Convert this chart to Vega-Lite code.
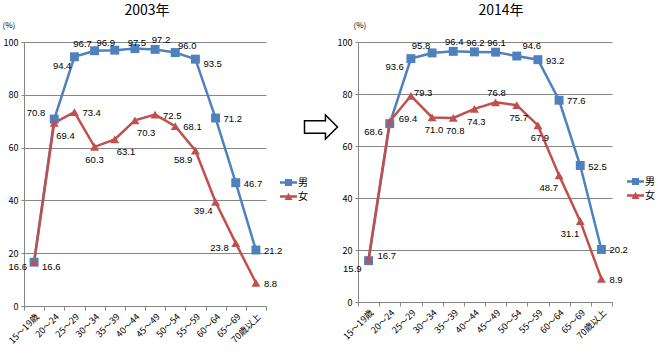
{
  "$schema": "https://vega.github.io/schema/vega-lite/v6.json",
  "padding": {"left": 2, "top": 4, "right": 0, "bottom": 0},
  "config": {"view": {"stroke": null}, "font": "Noto Sans CJK JP"},
  "data": {"values": [
    {"year": "2003", "sex": "男", "age": "15～19歳", "value": 16.6},
    {"year": "2003", "sex": "男", "age": "20～24", "value": 70.8},
    {"year": "2003", "sex": "男", "age": "25～29", "value": 94.4},
    {"year": "2003", "sex": "男", "age": "30～34", "value": 96.7},
    {"year": "2003", "sex": "男", "age": "35～39", "value": 96.9},
    {"year": "2003", "sex": "男", "age": "40～44", "value": 97.5},
    {"year": "2003", "sex": "男", "age": "45～49", "value": 97.2},
    {"year": "2003", "sex": "男", "age": "50～54", "value": 96.0},
    {"year": "2003", "sex": "男", "age": "55～59", "value": 93.5},
    {"year": "2003", "sex": "男", "age": "60～64", "value": 71.2},
    {"year": "2003", "sex": "男", "age": "65～69", "value": 46.7},
    {"year": "2003", "sex": "男", "age": "70歳以上", "value": 21.2},
    {"year": "2003", "sex": "女", "age": "15～19歳", "value": 16.6},
    {"year": "2003", "sex": "女", "age": "20～24", "value": 69.4},
    {"year": "2003", "sex": "女", "age": "25～29", "value": 73.4},
    {"year": "2003", "sex": "女", "age": "30～34", "value": 60.3},
    {"year": "2003", "sex": "女", "age": "35～39", "value": 63.1},
    {"year": "2003", "sex": "女", "age": "40～44", "value": 70.3},
    {"year": "2003", "sex": "女", "age": "45～49", "value": 72.5},
    {"year": "2003", "sex": "女", "age": "50～54", "value": 68.1},
    {"year": "2003", "sex": "女", "age": "55～59", "value": 58.9},
    {"year": "2003", "sex": "女", "age": "60～64", "value": 39.4},
    {"year": "2003", "sex": "女", "age": "65～69", "value": 23.8},
    {"year": "2003", "sex": "女", "age": "70歳以上", "value": 8.8},
    {"year": "2014", "sex": "男", "age": "15～19歳", "value": 15.9},
    {"year": "2014", "sex": "男", "age": "20～24", "value": 68.6},
    {"year": "2014", "sex": "男", "age": "25～29", "value": 93.6},
    {"year": "2014", "sex": "男", "age": "30～34", "value": 95.8},
    {"year": "2014", "sex": "男", "age": "35～39", "value": 96.4},
    {"year": "2014", "sex": "男", "age": "40～44", "value": 96.2},
    {"year": "2014", "sex": "男", "age": "45～49", "value": 96.1},
    {"year": "2014", "sex": "男", "age": "50～54", "value": 94.6},
    {"year": "2014", "sex": "男", "age": "55～59", "value": 93.2},
    {"year": "2014", "sex": "男", "age": "60～64", "value": 77.6},
    {"year": "2014", "sex": "男", "age": "65～69", "value": 52.5},
    {"year": "2014", "sex": "男", "age": "70歳以上", "value": 20.2},
    {"year": "2014", "sex": "女", "age": "15～19歳", "value": 16.7},
    {"year": "2014", "sex": "女", "age": "20～24", "value": 69.4},
    {"year": "2014", "sex": "女", "age": "25～29", "value": 79.3},
    {"year": "2014", "sex": "女", "age": "30～34", "value": 71.0},
    {"year": "2014", "sex": "女", "age": "35～39", "value": 70.8},
    {"year": "2014", "sex": "女", "age": "40～44", "value": 74.3},
    {"year": "2014", "sex": "女", "age": "45～49", "value": 76.8},
    {"year": "2014", "sex": "女", "age": "50～54", "value": 75.7},
    {"year": "2014", "sex": "女", "age": "55～59", "value": 67.9},
    {"year": "2014", "sex": "女", "age": "60～64", "value": 48.7},
    {"year": "2014", "sex": "女", "age": "65～69", "value": 31.1},
    {"year": "2014", "sex": "女", "age": "70歳以上", "value": 8.9}
  ]},
  "spacing": -4,
  "hconcat": [
    {
      "spacing": -7,
      "hconcat": [
        {
          "width": 242, "height": 264,
          "title": {"text": "2003年", "fontSize": 14, "fontWeight": "normal", "font": "Noto Sans CJK JP", "color": "black", "offset": 3, "dx": 2},
          "transform": [{"filter": "datum.year === '2003'"}],
          "resolve": {"scale": {"color": "independent", "shape": "independent"}},
          "encoding": {
            "x": {"field": "age", "type": "nominal", "sort": null, "scale": {"type": "band", "paddingInner": 0, "paddingOuter": 0},
              "axis": {"title": null, "labelAngle": -45, "labelFontSize": 9, "labelColor": "black", "tickBand": "extent", "tickSize": 4, "tickColor": "#868686", "domainColor": "#868686", "labelPadding": 2, "grid": false}},
            "y": {"field": "value", "type": "quantitative", "scale": {"domain": [0, 100]},
              "axis": {"values": [0, 20, 40, 60, 80, 100], "title": "(%)", "titleAngle": 0, "titleAlign": "left", "titleBaseline": "middle", "titleX": -22, "titleY": -17, "titleFontSize": 8, "titleFontWeight": "normal", "labelFontSize": 9, "labelColor": "black", "tickSize": 3, "tickColor": "#868686", "domainColor": "#868686", "gridColor": "#868686", "labelPadding": 3}},
            "color": {"field": "sex", "type": "nominal", "scale": {"domain": ["男", "女"], "range": ["#4F81BD", "#C0504D"]}, "legend": null}
          },
          "layer": [
            {"mark": {"type": "line", "strokeWidth": 2.5}},
            {"mark": {"type": "point", "filled": true, "opacity": 1, "size": 80},
              "encoding": {"shape": {"field": "sex", "type": "nominal", "scale": {"domain": ["男", "女"], "range": ["square", "triangle-up"]}, "legend": null}}},
            {"transform": [{"filter": "false"}],
              "mark": {"type": "point", "filled": true, "opacity": 1},
              "encoding": {
                "color": {"field": "sex", "type": "nominal", "scale": {"domain": ["男", "女"], "range": ["#4F81BD", "#C0504D"]},
                  "legend": {"orient": "none", "legendX": 256, "legendY": 132, "title": null, "symbolSize": 289, "labelFontSize": 10, "labelColor": "black", "rowPadding": 0, "labelOffset": 1, "padding": 0, "symbolStrokeWidth": 0, "symbolOpacity": 1}},
                "shape": {"field": "sex", "type": "nominal", "scale": {"domain": ["男", "女"], "range": ["M-1,-0.15H1V0.15H-1Z M-0.42,-0.42H0.42V0.42H-0.42Z", "M-1,-0.15H1V0.15H-1Z M0,-0.45L0.47,0.4H-0.47Z"]},
                  "legend": {"orient": "none", "legendX": 256, "legendY": 132, "title": null, "symbolSize": 289, "labelFontSize": 10, "labelColor": "black", "rowPadding": 0, "labelOffset": 1, "padding": 0, "symbolStrokeWidth": 0, "symbolOpacity": 1}}}},
            {"transform": [{"filter": "indexof(['男|60～64','男|65～69','男|70歳以上','女|25～29','女|45～49','女|50～54','女|70歳以上'], datum.sex + '|' + datum.age) >= 0"}],
              "mark": {"type": "text", "align": "left", "baseline": "middle", "dx": 8, "dy": 1, "fontSize": 9.5, "font": "Liberation Sans"},
              "encoding": {"text": {"field": "value", "type": "quantitative", "format": ".1f"}, "color": {"value": "black"}}},
            {"transform": [{"filter": "indexof(['男|55～59','女|15～19歳'], datum.sex + '|' + datum.age) >= 0"}],
              "mark": {"type": "text", "align": "left", "baseline": "middle", "dx": 8, "dy": 5, "fontSize": 9.5, "font": "Liberation Sans"},
              "encoding": {"text": {"field": "value", "type": "quantitative", "format": ".1f"}, "color": {"value": "black"}}},
            {"transform": [{"filter": "indexof(['男|15～19歳','女|65～69'], datum.sex + '|' + datum.age) >= 0"}],
              "mark": {"type": "text", "align": "right", "baseline": "middle", "dx": -7, "dy": 5, "fontSize": 9.5, "font": "Liberation Sans"},
              "encoding": {"text": {"field": "value", "type": "quantitative", "format": ".1f"}, "color": {"value": "black"}}},
            {"transform": [{"filter": "indexof(['男|20～24'], datum.sex + '|' + datum.age) >= 0"}],
              "mark": {"type": "text", "align": "right", "baseline": "middle", "dx": -9, "dy": -6, "fontSize": 9.5, "font": "Liberation Sans"},
              "encoding": {"text": {"field": "value", "type": "quantitative", "format": ".1f"}, "color": {"value": "black"}}},
            {"transform": [{"filter": "indexof(['男|25～29','女|55～59','女|60～64'], datum.sex + '|' + datum.age) >= 0"}],
              "mark": {"type": "text", "align": "right", "baseline": "middle", "dx": -3, "dy": 9, "fontSize": 9.5, "font": "Liberation Sans"},
              "encoding": {"text": {"field": "value", "type": "quantitative", "format": ".1f"}, "color": {"value": "black"}}},
            {"transform": [{"filter": "indexof(['女|20～24','女|35～39','女|40～44'], datum.sex + '|' + datum.age) >= 0"}],
              "mark": {"type": "text", "align": "left", "baseline": "middle", "dx": 2, "dy": 13, "fontSize": 9.5, "font": "Liberation Sans"},
              "encoding": {"text": {"field": "value", "type": "quantitative", "format": ".1f"}, "color": {"value": "black"}}},
            {"transform": [{"filter": "indexof(['女|30～34'], datum.sex + '|' + datum.age) >= 0"}],
              "mark": {"type": "text", "align": "center", "baseline": "middle", "dx": 0, "dy": 13, "fontSize": 9.5, "font": "Liberation Sans"},
              "encoding": {"text": {"field": "value", "type": "quantitative", "format": ".1f"}, "color": {"value": "black"}}},
            {"transform": [{"filter": "indexof(['男|30～34'], datum.sex + '|' + datum.age) >= 0"}],
              "mark": {"type": "text", "align": "center", "baseline": "middle", "dx": -12, "dy": -7, "fontSize": 9.5, "font": "Liberation Sans"},
              "encoding": {"text": {"field": "value", "type": "quantitative", "format": ".1f"}, "color": {"value": "black"}}},
            {"transform": [{"filter": "indexof(['男|35～39'], datum.sex + '|' + datum.age) >= 0"}],
              "mark": {"type": "text", "align": "center", "baseline": "middle", "dx": -9, "dy": -7, "fontSize": 9.5, "font": "Liberation Sans"},
              "encoding": {"text": {"field": "value", "type": "quantitative", "format": ".1f"}, "color": {"value": "black"}}},
            {"transform": [{"filter": "indexof(['男|40～44'], datum.sex + '|' + datum.age) >= 0"}],
              "mark": {"type": "text", "align": "center", "baseline": "middle", "dx": 2, "dy": -6, "fontSize": 9.5, "font": "Liberation Sans"},
              "encoding": {"text": {"field": "value", "type": "quantitative", "format": ".1f"}, "color": {"value": "black"}}},
            {"transform": [{"filter": "indexof(['男|45～49'], datum.sex + '|' + datum.age) >= 0"}],
              "mark": {"type": "text", "align": "center", "baseline": "middle", "dx": 6, "dy": -9, "fontSize": 9.5, "font": "Liberation Sans"},
              "encoding": {"text": {"field": "value", "type": "quantitative", "format": ".1f"}, "color": {"value": "black"}}},
            {"transform": [{"filter": "indexof(['男|50～54'], datum.sex + '|' + datum.age) >= 0"}],
              "mark": {"type": "text", "align": "center", "baseline": "middle", "dx": 12, "dy": -7, "fontSize": 9.5, "font": "Liberation Sans"},
              "encoding": {"text": {"field": "value", "type": "quantitative", "format": ".1f"}, "color": {"value": "black"}}}
          ]
        },
        {
          "width": 20, "height": 170,
          "data": {"values": [{"item": "arrow"}]},
          "mark": {"type": "point", "shape": "M-1,-0.38L0.27,-0.38L0.27,-0.73L1,0L0.27,0.73L0.27,0.38L-1,0.38Z", "size": 1089, "filled": true, "fill": "white", "stroke": "black", "strokeWidth": 1.5, "opacity": 1},
          "encoding": {}
        }
      ]
    },
    {
      "width": 254, "height": 260,
      "title": {"text": "2014年", "fontSize": 14, "fontWeight": "normal", "font": "Noto Sans CJK JP", "color": "black", "offset": 3, "dx": 16},
      "transform": [{"filter": "datum.year === '2014'"}],
      "resolve": {"scale": {"color": "independent", "shape": "independent"}},
      "encoding": {
        "x": {"field": "age", "type": "nominal", "sort": null, "scale": {"type": "band", "paddingInner": 0, "paddingOuter": 0},
          "axis": {"title": null, "labelAngle": -45, "labelFontSize": 9, "labelColor": "black", "tickBand": "extent", "tickSize": 4, "tickColor": "#868686", "domainColor": "#868686", "labelPadding": 2, "grid": false}},
        "y": {"field": "value", "type": "quantitative", "scale": {"domain": [0, 100]},
          "axis": {"values": [0, 20, 40, 60, 80, 100], "title": "(%)", "titleAngle": 0, "titleAlign": "left", "titleBaseline": "middle", "titleX": -5, "titleY": -17, "titleFontSize": 8, "titleFontWeight": "normal", "labelFontSize": 9, "labelColor": "black", "tickSize": 3, "tickColor": "#868686", "domainColor": "#868686", "gridColor": "#868686", "labelPadding": 3}},
        "color": {"field": "sex", "type": "nominal", "scale": {"domain": ["男", "女"], "range": ["#4F81BD", "#C0504D"]}, "legend": null}
      },
      "layer": [
        {"mark": {"type": "line", "strokeWidth": 2.5}},
        {"mark": {"type": "point", "filled": true, "opacity": 1, "size": 80},
          "encoding": {"shape": {"field": "sex", "type": "nominal", "scale": {"domain": ["男", "女"], "range": ["square", "triangle-up"]}, "legend": null}}},
        {"transform": [{"filter": "false"}],
          "mark": {"type": "point", "filled": true, "opacity": 1},
          "encoding": {
            "color": {"field": "sex", "type": "nominal", "scale": {"domain": ["男", "女"], "range": ["#4F81BD", "#C0504D"]},
              "legend": {"orient": "none", "legendX": 269, "legendY": 131, "title": null, "symbolSize": 289, "labelFontSize": 10, "labelColor": "black", "rowPadding": -1, "labelOffset": 1, "padding": 0, "symbolStrokeWidth": 0, "symbolOpacity": 1}},
            "shape": {"field": "sex", "type": "nominal", "scale": {"domain": ["男", "女"], "range": ["M-1,-0.15H1V0.15H-1Z M-0.42,-0.42H0.42V0.42H-0.42Z", "M-1,-0.15H1V0.15H-1Z M0,-0.45L0.47,0.4H-0.47Z"]},
              "legend": {"orient": "none", "legendX": 269, "legendY": 131, "title": null, "symbolSize": 289, "labelFontSize": 10, "labelColor": "black", "rowPadding": -1, "labelOffset": 1, "padding": 0, "symbolStrokeWidth": 0, "symbolOpacity": 1}}}},
        {"transform": [{"filter": "indexof(['男|55～59','男|60～64','男|65～69','男|70歳以上','女|70歳以上'], datum.sex + '|' + datum.age) >= 0"}],
          "mark": {"type": "text", "align": "left", "baseline": "middle", "dx": 8, "dy": 1, "fontSize": 9.5, "font": "Liberation Sans"},
          "encoding": {"text": {"field": "value", "type": "quantitative", "format": ".1f"}, "color": {"value": "black"}}},
        {"transform": [{"filter": "indexof(['女|15～19歳','女|20～24'], datum.sex + '|' + datum.age) >= 0"}],
          "mark": {"type": "text", "align": "left", "baseline": "middle", "dx": 9, "dy": -3, "fontSize": 9.5, "font": "Liberation Sans"},
          "encoding": {"text": {"field": "value", "type": "quantitative", "format": ".1f"}, "color": {"value": "black"}}},
        {"transform": [{"filter": "indexof(['女|25～29'], datum.sex + '|' + datum.age) >= 0"}],
          "mark": {"type": "text", "align": "left", "baseline": "middle", "dx": 3, "dy": -3, "fontSize": 9.5, "font": "Liberation Sans"},
          "encoding": {"text": {"field": "value", "type": "quantitative", "format": ".1f"}, "color": {"value": "black"}}},
        {"transform": [{"filter": "indexof(['男|15～19歳','男|20～24','男|25～29'], datum.sex + '|' + datum.age) >= 0"}],
          "mark": {"type": "text", "align": "right", "baseline": "middle", "dx": -7, "dy": 8, "fontSize": 9.5, "font": "Liberation Sans"},
          "encoding": {"text": {"field": "value", "type": "quantitative", "format": ".1f"}, "color": {"value": "black"}}},
        {"transform": [{"filter": "indexof(['女|60～64','女|65～69'], datum.sex + '|' + datum.age) >= 0"}],
          "mark": {"type": "text", "align": "right", "baseline": "middle", "dx": -1, "dy": 13, "fontSize": 9.5, "font": "Liberation Sans"},
          "encoding": {"text": {"field": "value", "type": "quantitative", "format": ".1f"}, "color": {"value": "black"}}},
        {"transform": [{"filter": "indexof(['男|30～34'], datum.sex + '|' + datum.age) >= 0"}],
          "mark": {"type": "text", "align": "center", "baseline": "middle", "dx": -11, "dy": -7, "fontSize": 9.5, "font": "Liberation Sans"},
          "encoding": {"text": {"field": "value", "type": "quantitative", "format": ".1f"}, "color": {"value": "black"}}},
        {"transform": [{"filter": "indexof(['男|35～39','男|40～44','男|45～49','女|45～49'], datum.sex + '|' + datum.age) >= 0"}],
          "mark": {"type": "text", "align": "center", "baseline": "middle", "dx": 1, "dy": -9, "fontSize": 9.5, "font": "Liberation Sans"},
          "encoding": {"text": {"field": "value", "type": "quantitative", "format": ".1f"}, "color": {"value": "black"}}},
        {"transform": [{"filter": "indexof(['男|50～54'], datum.sex + '|' + datum.age) >= 0"}],
          "mark": {"type": "text", "align": "center", "baseline": "middle", "dx": 15, "dy": -10, "fontSize": 9.5, "font": "Liberation Sans"},
          "encoding": {"text": {"field": "value", "type": "quantitative", "format": ".1f"}, "color": {"value": "black"}}},
        {"transform": [{"filter": "indexof(['女|30～34','女|35～39','女|40～44','女|50～54','女|55～59'], datum.sex + '|' + datum.age) >= 0"}],
          "mark": {"type": "text", "align": "center", "baseline": "middle", "dx": 2, "dy": 13, "fontSize": 9.5, "font": "Liberation Sans"},
          "encoding": {"text": {"field": "value", "type": "quantitative", "format": ".1f"}, "color": {"value": "black"}}}
      ]
    }
  ]
}
